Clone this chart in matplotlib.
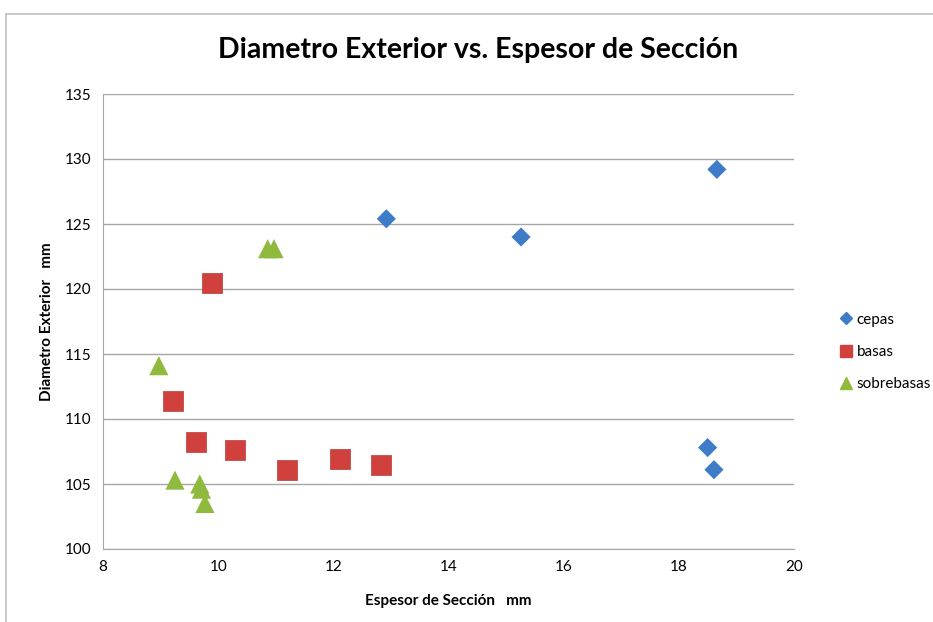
import matplotlib
matplotlib.use("Agg")
import matplotlib.pyplot as plt
from matplotlib.lines import Line2D

cepas_x = [12.92, 15.26, 18.66, 18.50, 18.61]
cepas_y = [125.4, 124.0, 129.2, 107.8, 106.1]
basas_x = [9.89, 9.22, 9.61, 10.29, 11.19, 12.11, 12.83]
basas_y = [120.5, 111.4, 108.2, 107.6, 106.1, 106.9, 106.5]
sobre_x = [8.97, 9.25, 9.68, 9.71, 9.77, 10.86, 10.97]
sobre_y = [114.1, 105.3, 105.0, 104.6, 103.5, 123.1, 123.1]
xticks = [8, 10, 12, 14, 16, 18, 20]
yticks = [100, 105, 110, 115, 120, 125, 130, 135]

plt.rcParams['font.family'] = ['Lato', 'DejaVu Sans']

fig = plt.figure(figsize=(9.33, 6.22), dpi=100)
ax = fig.add_axes([103/933, 1-549/622, (794-103)/933, (549-94)/622])

ax.scatter(cepas_x, cepas_y, marker='D', s=95, color='#3F7CC8', label='cepas', zorder=3, edgecolors='none')
ax.scatter(basas_x, basas_y, marker='s', s=190, color='#D0413E', label='basas', zorder=3, edgecolors='#B83A37', linewidths=0.5)
ax.scatter(sobre_x, sobre_y, marker='^', s=190, color='#8FBA3E', label='sobrebasas', zorder=3, edgecolors='none')

ax.set_xlim(8, 20)
ax.set_ylim(100, 135)
ax.set_xticks(xticks)
ax.set_yticks(yticks)
ax.tick_params(length=0, labelsize=11, pad=8)
ax.grid(axis='y', color='#A6A6A6', linewidth=1)
ax.set_axisbelow(True)
for s in ['top', 'right']:
    ax.spines[s].set_visible(False)
for s in ['left', 'bottom']:
    ax.spines[s].set_color('#A6A6A6')

ax.set_xlabel('Espesor de Sección   mm', fontsize=11, fontweight='bold', labelpad=14)
ax.set_ylabel('Diametro Exterior   mm', fontsize=11, fontweight='bold', labelpad=8)

fig.text(478/933, 1-50/622, 'Diametro Exterior vs. Espesor de Sección', ha='center', va='center',
         fontsize=20.5, fontweight='bold')

handles = [
    Line2D([], [], marker='D', color='#3F7CC8', linestyle='none', markersize=6),
    Line2D([], [], marker='s', color='#D0413E', linestyle='none', markersize=8),
    Line2D([], [], marker='^', color='#8FBA3E', linestyle='none', markersize=8),
]
fig.legend(handles, ['cepas', 'basas', 'sobrebasas'], loc='center left',
           bbox_to_anchor=(826/933, 1-352/622), frameon=False, fontsize=11,
           handlelength=0.8, handletextpad=0.3, labelspacing=1.2)

# outer frame (partially visible)
fig.add_artist(Line2D([6/933, 1], [1-14/622, 1-14/622], color='#BFBFBF', linewidth=1.2, transform=fig.transFigure))
fig.add_artist(Line2D([6/933, 6/933], [0, 1-14/622], color='#BFBFBF', linewidth=1.2, transform=fig.transFigure))

fig.savefig('out.png', dpi=100)
